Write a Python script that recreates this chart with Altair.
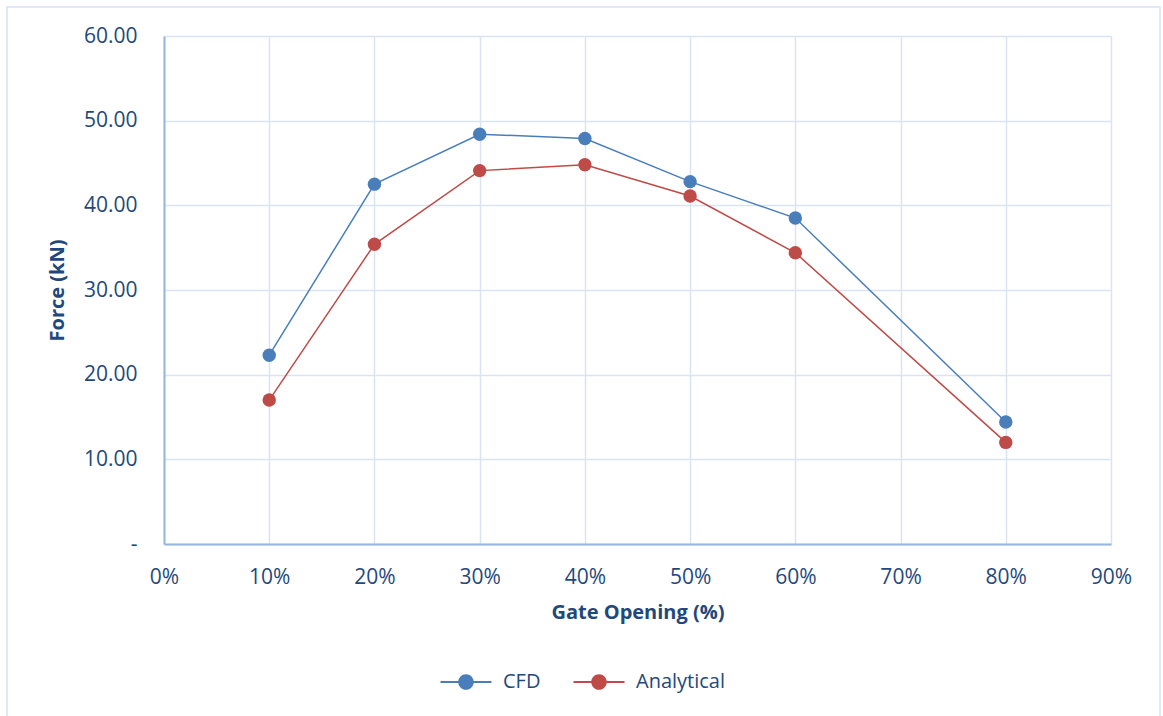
import altair as alt
import pandas as pd

# Gate opening (fraction) and resulting force on the gate (kN)
gate_opening = [0.1, 0.2, 0.3, 0.4, 0.5, 0.6, 0.8]
cfd_force = [22.3, 42.5, 48.4, 47.9, 42.8, 38.5, 14.4]
analytical_force = [17.0, 35.4, 44.1, 44.8, 41.1, 34.4, 12.0]

series_names = ["CFD", "Analytical"]
series_colors = ["#4a7ebb", "#be4b48"]

x_ticks = [0.0, 0.1, 0.2, 0.3, 0.4, 0.5, 0.6, 0.7, 0.8, 0.9]
y_ticks = [0, 10, 20, 30, 40, 50, 60]

rows = []
for name, values in zip(series_names, [cfd_force, analytical_force]):
    for g, f in zip(gate_opening, values):
        rows.append({"series": name, "trace": name, "opening": g, "force": f})
df = pd.DataFrame(rows)

TEXT = "#1f497d"
FONT = "Open Sans"
GRID = "#d9e4f3"
DOMAIN = "#94b6e0"

x_enc = alt.X(
    "opening:Q",
    scale=alt.Scale(domain=[0, 0.9], nice=False),
    axis=alt.Axis(
        values=x_ticks, format=".0%", title="Gate Opening (%)",
        titleY=68, titleBaseline="middle", labelPadding=22, labelFlush=False,
    ),
)
y_enc = alt.Y(
    "force:Q",
    scale=alt.Scale(domain=[0, 60], nice=False),
    axis=alt.Axis(
        values=y_ticks, title="Force (kN)",
        labelExpr="datum.value == 0 ? '-' : format(datum.value, '.2f')",
        labelPadding=27, titleX=-107, titleY=254, titleAngle=-90,
        titleAlign="center", titleBaseline="middle", labelFlush=False,
    ),
)

# line + dot legend glyph: a thin bar with a circle in the middle
legend_glyph = (
    "M-2.55,-0.09 L2.55,-0.09 L2.55,0.09 L-2.55,0.09 Z "
    "M0.78,0 A0.78,0.78 0 1,1 -0.78,0 A0.78,0.78 0 1,1 0.78,0 Z"
)

frame = alt.Chart(pd.DataFrame({"k": [0]})).mark_rect(
    fill=None, stroke="#d9e2f1", strokeWidth=1.5
).encode(
    x=alt.value(-157), x2=alt.value(996), y=alt.value(-29), y2=alt.value(700)
)

lines = alt.Chart(df).mark_line(strokeWidth=1.5).encode(
    x=x_enc, y=y_enc,
    stroke=alt.Stroke(
        "trace:N", scale=alt.Scale(domain=series_names, range=series_colors),
        legend=None,
    ),
    detail="trace:N",
)

points = alt.Chart(df).mark_circle(size=180, opacity=1).encode(
    x=x_enc, y=y_enc,
    fill=alt.Fill(
        "series:N", scale=alt.Scale(domain=series_names, range=series_colors),
        legend=alt.Legend(
            title=None, orient="none", direction="horizontal",
            legendX=292, legendY=636, symbolType=legend_glyph,
            symbolSize=400, symbolStrokeWidth=0, labelOffset=27,
            columnPadding=32, labelFontSize=20, labelColor=TEXT,
            labelFont=FONT, padding=0,
        ),
    ),
)

chart = alt.layer(frame, lines, points).resolve_scale(
    fill="independent", stroke="independent"
).properties(
    width=947, height=508,
    autosize=alt.AutoSizeParams(type="none"),
    padding={"left": 164, "top": 36, "right": 52, "bottom": 172},
    background="white",
).configure_view(
    stroke=None
).configure_axis(
    labelFont=FONT, labelFontSize=21, labelColor=TEXT,
    titleFont=FONT, titleFontSize=20, titleFontWeight="bold", titleColor=TEXT,
    grid=True, gridColor=GRID, gridWidth=1.5,
    domainColor=DOMAIN, domainWidth=2, ticks=False,
)

chart.save("out.html", embed_options={"renderer": "svg", "actions": False})
